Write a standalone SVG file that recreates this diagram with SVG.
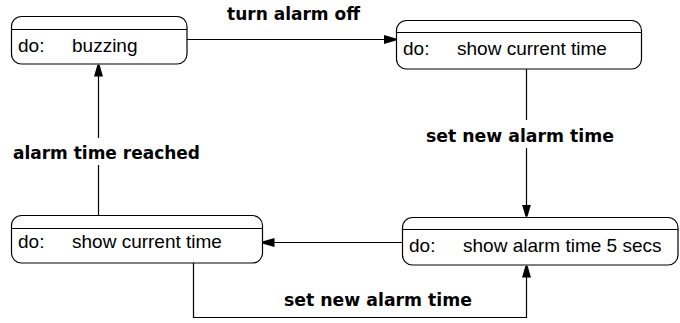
<svg xmlns="http://www.w3.org/2000/svg" width="680" height="323" viewBox="0 0 680 323">
<style>
.node rect{fill:#fff;stroke:#000;stroke-width:1.2}
.node line{stroke:#000;stroke-width:1.2}
.nt{font-family:"Liberation Sans",Arial,sans-serif;font-size:19px;fill:#000}
.lbl{font-family:"DejaVu Sans",Verdana,sans-serif;font-size:17px;font-weight:bold;fill:#000}
.edge{fill:none;stroke:#000;stroke-width:1.2}
</style>
<defs>
<marker id="ah" viewBox="0 0 12 10" refX="12" refY="5" markerWidth="12" markerHeight="10" markerUnits="userSpaceOnUse" orient="auto">
<path d="M0,0.5 L12,4 L12,6 L0,9.5 Z" fill="#000"/>
</marker>
</defs>
<rect width="680" height="323" fill="#fff"/>
<g id="connectors">
<line class="edge" x1="187" y1="39.5" x2="396" y2="39.5" marker-end="url(#ah)"/>
<line class="edge" x1="98.5" y1="215" x2="98.5" y2="165"/>
<line class="edge" x1="98.5" y1="138" x2="98.5" y2="64.5" marker-end="url(#ah)"/>
<line class="edge" x1="526.5" y1="69" x2="526.5" y2="120"/>
<line class="edge" x1="526.5" y1="148" x2="526.5" y2="216.5" marker-end="url(#ah)"/>
<line class="edge" x1="402" y1="242.5" x2="262.5" y2="242.5" marker-end="url(#ah)"/>
<polyline class="edge" points="193.5,263 193.5,317.5 526.5,317.5 526.5,265.5" marker-end="url(#ah)"/>
<text class="lbl" x="227" y="20" textLength="133" lengthAdjust="spacingAndGlyphs">turn alarm off</text>
<text class="lbl" x="13" y="159" textLength="187" lengthAdjust="spacingAndGlyphs">alarm time reached</text>
<text class="lbl" x="426" y="142" textLength="188" lengthAdjust="spacingAndGlyphs">set new alarm time</text>
<text class="lbl" x="284" y="306" textLength="188" lengthAdjust="spacingAndGlyphs">set new alarm time</text>
</g>
<g id="node-buzzing" class="node">
<rect x="11.5" y="16.5" width="175.5" height="47.5" rx="10"/>
<line x1="11.5" y1="29.5" x2="187" y2="29.5"/>
<text class="nt" x="18" y="52">do:</text>
<text class="nt" x="72" y="52">buzzing</text>
</g>
<g id="node-current-time-top" class="node">
<rect x="396.5" y="20.5" width="245" height="48.5" rx="10"/>
<line x1="396.5" y1="32.5" x2="641.5" y2="32.5"/>
<text class="nt" x="403" y="55">do:</text>
<text class="nt" x="457" y="55">show current time</text>
</g>
<g id="node-current-time-bottom" class="node">
<rect x="11.5" y="215.5" width="251" height="47.5" rx="10"/>
<line x1="11.5" y1="228.5" x2="262.5" y2="228.5"/>
<text class="nt" x="18" y="248">do:</text>
<text class="nt" x="72" y="248">show current time</text>
</g>
<g id="node-alarm-time" class="node">
<rect x="402.5" y="217.5" width="275.5" height="47.5" rx="10"/>
<line x1="402.5" y1="229.5" x2="678" y2="229.5"/>
<text class="nt" x="409" y="252">do:</text>
<text class="nt" x="463" y="252">show alarm time 5 secs</text>
</g>
</svg>
